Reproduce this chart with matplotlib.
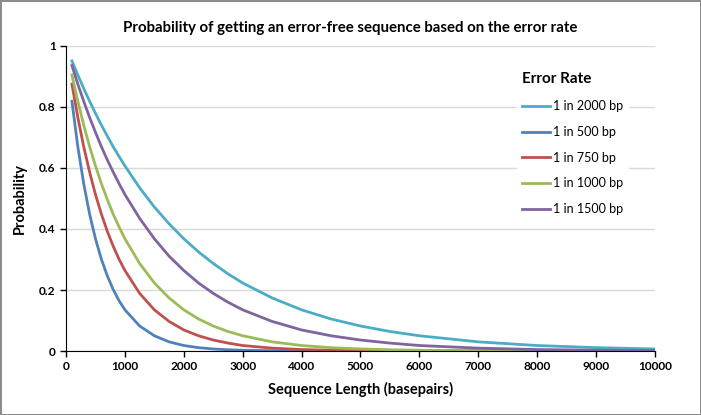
import matplotlib.pyplot as plt

# sequence length (bp) and probability for each error rate
length = [100, 200, 300, 400, 500, 600, 700, 800, 900, 1000, 1250, 1500, 1750, 2000,
          2250, 2500, 2750, 3000, 3500, 4000, 4500, 5000, 5500, 6000, 7000, 8000, 9000, 10000]

p_2000 = [0.951, 0.905, 0.861, 0.819, 0.779, 0.741, 0.705, 0.670, 0.638, 0.607, 0.535, 0.472,
          0.417, 0.368, 0.325, 0.287, 0.253, 0.223, 0.174, 0.135, 0.105, 0.082, 0.064, 0.050,
          0.030, 0.018, 0.011, 0.0067]
p_500 = [0.819, 0.670, 0.549, 0.449, 0.368, 0.301, 0.247, 0.202, 0.165, 0.135, 0.082, 0.050,
         0.030, 0.018, 0.011, 0.0067, 0.0041, 0.0025, 0.0009, 0.0003, 0.0001, 0.00005,
         0.00002, 0.0, 0.0, 0.0, 0.0, 0.0]
p_750 = [0.875, 0.766, 0.670, 0.587, 0.513, 0.449, 0.393, 0.344, 0.301, 0.264, 0.189, 0.135,
         0.097, 0.069, 0.050, 0.036, 0.026, 0.018, 0.0094, 0.0048, 0.0025, 0.0013, 0.0007,
         0.0003, 0.0001, 0.0, 0.0, 0.0]
p_1000 = [0.905, 0.819, 0.741, 0.670, 0.607, 0.549, 0.497, 0.449, 0.407, 0.368, 0.287, 0.223,
          0.174, 0.135, 0.105, 0.082, 0.064, 0.050, 0.030, 0.018, 0.011, 0.0067, 0.0041,
          0.0025, 0.0009, 0.0003, 0.0001, 0.00005]
p_1500 = [0.936, 0.875, 0.819, 0.766, 0.717, 0.670, 0.627, 0.587, 0.549, 0.513, 0.435, 0.368,
          0.311, 0.264, 0.223, 0.189, 0.160, 0.135, 0.097, 0.069, 0.050, 0.036, 0.026, 0.018,
          0.0094, 0.0048, 0.0025, 0.0013]

series = [
    ("1 in 2000 bp", p_2000, "#4BACC6"),
    ("1 in 500 bp", p_500, "#4F81BD"),
    ("1 in 750 bp", p_750, "#C0504D"),
    ("1 in 1000 bp", p_1000, "#9BBB59"),
    ("1 in 1500 bp", p_1500, "#8064A2"),
]

plt.rcParams["font.family"] = ["Lato", "DejaVu Sans"]

fig = plt.figure(figsize=(7.01, 4.15), dpi=100, edgecolor="#8c8c8c", linewidth=2)
ax = fig.add_axes([0.0942, 0.1542, 0.840, 0.735])

for name, vals, col in series:
    ax.plot(length, vals, color=col, lw=2, label=name, solid_joinstyle="round")

ax.set_xlim(0, 10000)
ax.set_ylim(0, 1)
ax.set_xticks(range(0, 10001, 1000))
ax.set_yticks([0, 0.2, 0.4, 0.6, 0.8, 1])
ax.set_yticklabels(["0", "0.2", "0.4", "0.6", "0.8", "1"])
ax.grid(axis="y", color="#d9d9d9", lw=1)
ax.set_axisbelow(True)
for s in ["top", "right"]:
    ax.spines[s].set_visible(False)
ax.tick_params(direction="out", length=4, width=1, labelsize=8.6)
for lab in ax.get_xticklabels() + ax.get_yticklabels():
    lab.set_fontweight("bold")

ax.set_xlabel("Sequence Length (basepairs)", fontsize=10.5, fontweight="bold", labelpad=7)
ax.set_ylabel("Probability", fontsize=10.5, fontweight="bold", labelpad=9)
fig.text(0.5, 0.933, "Probability of getting an error-free sequence based on the error rate",
         fontsize=10.8, fontweight="bold", ha="center", va="center")

leg = ax.legend(title="Error Rate", loc="upper right", bbox_to_anchor=(0.966, 0.95),
                fontsize=9, frameon=True, facecolor="white", framealpha=1,
                edgecolor="none", handlelength=2.2, labelspacing=1.1, handletextpad=0.3)
leg.get_title().set_fontweight("bold")
leg.get_title().set_fontsize(11)
leg._legend_box.align = "left"

fig.savefig("out.png", dpi=100)
